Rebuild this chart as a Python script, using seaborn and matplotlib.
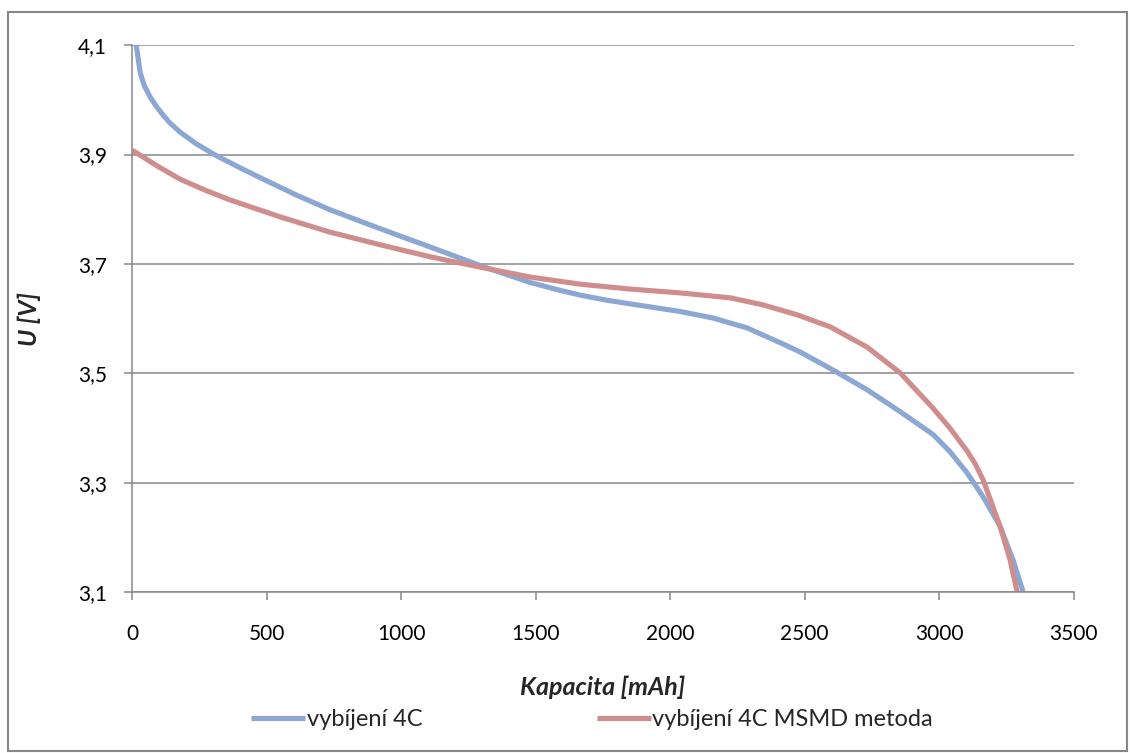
import numpy as np
import pandas as pd
import matplotlib
matplotlib.use("Agg")
import matplotlib.pyplot as plt
import seaborn as sns
from matplotlib.patches import Rectangle
from matplotlib.ticker import FuncFormatter

# Hodnoty
kap_4c = [15, 30, 45, 67, 90, 115, 140, 178, 240, 309, 400, 487, 610, 736, 870,
          996, 1108, 1305, 1480, 1580, 1665, 1760, 1851, 2037, 2160, 2286, 2409,
          2483, 2606, 2732, 2855, 2978, 3040, 3104, 3164, 3227, 3275, 3312]
u_4c = [4.100, 4.049, 4.026, 4.005, 3.988, 3.972, 3.958, 3.941, 3.919, 3.899,
        3.876, 3.855, 3.826, 3.799, 3.774, 3.751, 3.731, 3.695, 3.666, 3.653,
        3.643, 3.634, 3.627, 3.613, 3.601, 3.583, 3.556, 3.539, 3.506, 3.470,
        3.430, 3.388, 3.357, 3.318, 3.274, 3.220, 3.159, 3.101]

kap_msmd = [0, 90, 178, 270, 364, 550, 736, 922, 1108, 1305, 1480, 1665, 1851,
            2037, 2223, 2346, 2472, 2595, 2732, 2855, 2978, 3040, 3104, 3135,
            3164, 3227, 3264, 3290]
u_msmd = [3.908, 3.880, 3.855, 3.835, 3.817, 3.786, 3.758, 3.735, 3.713, 3.693,
          3.676, 3.663, 3.654, 3.647, 3.638, 3.625, 3.607, 3.585, 3.548, 3.501,
          3.436, 3.400, 3.358, 3.334, 3.305, 3.220, 3.159, 3.101]

nazvy = ["vybíjení 4C", "vybíjení 4C MSMD metoda"]
barvy = ["#8CA7D3", "#D08D8D"]

df = pd.concat([
    pd.DataFrame({"Kapacita": kap_4c, "U": u_4c, "serie": nazvy[0]}),
    pd.DataFrame({"Kapacita": kap_msmd, "U": u_msmd, "serie": nazvy[1]}),
])

sns.set_style("white")
plt.rcParams["font.family"] = ["Lato", "DejaVu Sans"]

fig = plt.figure(figsize=(11.3, 7.53), dpi=100)
ax = fig.add_axes([0.117, 0.2138, 0.833, 0.7262])

sns.lineplot(data=df, x="Kapacita", y="U", hue="serie", palette=barvy,
             sort=False, estimator=None, linewidth=3.7, ax=ax, legend=True)
for ln in ax.lines:
    ln.set_solid_capstyle("butt")
    ln.set_solid_joinstyle("round")

ax.set_xlim(0, 3500)
ax.set_ylim(3.1, 4.1)
ax.set_xticks(np.arange(0, 3501, 500))
ax.set_yticks([3.1, 3.3, 3.5, 3.7, 3.9, 4.1])
ax.yaxis.set_major_formatter(FuncFormatter(lambda v, p: f"{v:.1f}".replace(".", ",")))
ax.grid(axis="y", color="#878787", linewidth=1.1)
ax.set_axisbelow(True)
for s in ["top", "right"]:
    ax.spines[s].set_visible(False)
for s in ["left", "bottom"]:
    ax.spines[s].set_color("#878787")
    ax.spines[s].set_linewidth(1.1)
ax.tick_params(axis="both", which="major", direction="out", length=6, width=1.1,
               color="#878787", labelsize=15, labelcolor="black",
               bottom=True, left=True)
ax.tick_params(axis="x", pad=17)
ax.tick_params(axis="y", pad=12)

ax.set_xlabel("Kapacita [mAh]", fontsize=18, fontweight="bold", style="italic")
ax.set_ylabel("U [V]", fontsize=18, fontweight="bold", style="italic")
ax.xaxis.label.set_va("center")
ax.yaxis.label.set_va("center")
ax.xaxis.set_label_coords(0.5, -0.174)
ax.yaxis.set_label_coords(-0.109, 0.5)

leg = ax.legend(loc="center", bbox_to_anchor=(0.524, 0.044),
                bbox_transform=fig.transFigure, ncol=2, frameon=False,
                fontsize=17, handlelength=2.3, handletextpad=0.05,
                columnspacing=7.4, title=None)
for h in leg.get_lines():
    h.set_linewidth(3.7)

fig.patches.append(Rectangle((0.007, 0.002), 0.990, 0.982, transform=fig.transFigure,
                             fill=False, edgecolor="#878787", linewidth=1.5))

fig.savefig("out.png", dpi=100)
